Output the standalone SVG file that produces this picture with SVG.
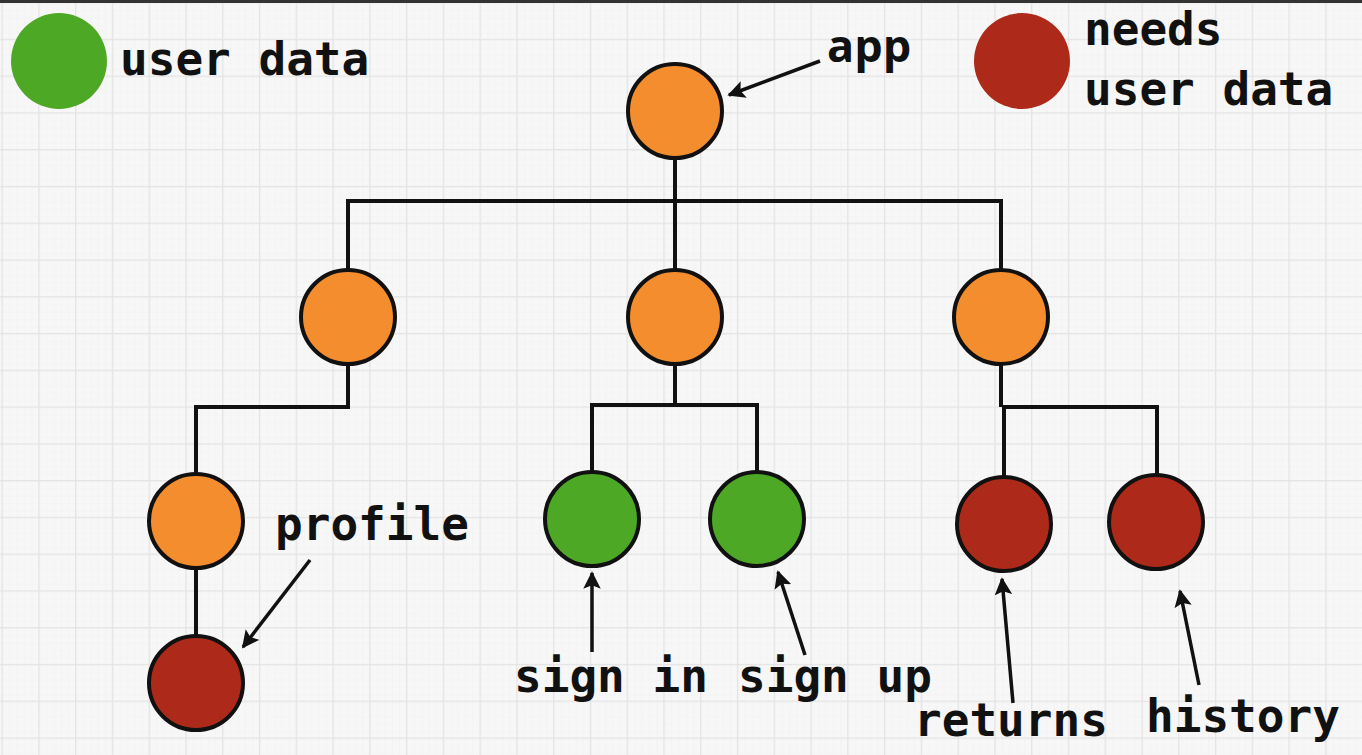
<svg xmlns="http://www.w3.org/2000/svg" width="1362" height="755" viewBox="0 0 1362 755">
<defs>
<pattern id="fine" x="1.5" y="2" width="7.354" height="7.354" patternUnits="userSpaceOnUse">
<path d="M7.354 0V7.354M0 7.354H7.354" fill="none" stroke="#ededed" stroke-width="0.6"/>
</pattern>
<pattern id="grid" x="1.5" y="2" width="36.77" height="36.77" patternUnits="userSpaceOnUse">
<rect width="36.77" height="36.77" fill="url(#fine)"/>
<path d="M0.5 0V36.77M0 0.5H36.77" fill="none" stroke="#e4e4e4" stroke-width="1.6"/>
</pattern>
<marker id="arr" viewBox="0 0 10 10" refX="9" refY="5" markerWidth="5" markerHeight="5" markerUnits="strokeWidth" orient="auto">
<path d="M0 0L10 5L0 10L2 5Z" fill="#111"/>
</marker>
<style>
.node{stroke:#111;stroke-width:4}
.orange{fill:#f48d2d}
.green{fill:#4da826}
.red{fill:#ad2a1a}
.conn{fill:none;stroke:#111;stroke-width:4}
.arrow{fill:none;stroke:#111;stroke-width:3.5;marker-end:url(#arr)}
.lbl{font-family:"DejaVu Sans Mono","Liberation Mono",monospace;font-weight:bold;font-size:46px;fill:#111}
.sans{font-family:"Open Sans","DejaVu Sans",sans-serif;font-weight:bold;font-size:45px;fill:#111}
</style>
</defs>
<rect width="1362" height="755" fill="#f7f7f7"/>
<rect width="1362" height="755" fill="url(#grid)"/>
<rect width="1362" height="3" fill="#333"/>

<g id="legend">
<circle cx="59" cy="61" r="48" class="green"/>
<text x="120" y="75" class="lbl">user data</text>
<circle cx="1022" cy="61" r="48" class="red"/>
<text x="1084" y="45" class="lbl">needs</text>
<text x="1084" y="105" class="lbl">user data</text>
</g>

<g id="connectors">
<path class="conn" d="M675 158V201M348 270V201H1001V270M675 201V270"/>
<path class="conn" d="M348 364V407H196V474"/>
<path class="conn" d="M675 364V405M592 472V405H757V472"/>
<path class="conn" d="M1001 364V407M1004 477V407H1157V475"/>
<path class="conn" d="M196 568V636"/>
<line class="arrow" x1="820" y1="61" x2="729" y2="95"/>
<line class="arrow" x1="310" y1="560" x2="243" y2="647"/>
<line class="arrow" x1="592" y1="652" x2="592" y2="573"/>
<line class="arrow" x1="805" y1="655" x2="778" y2="572"/>
<line class="arrow" x1="1013" y1="703" x2="1002" y2="579"/>
<line class="arrow" x1="1199" y1="685" x2="1180" y2="591"/>
</g>

<g id="node-app"><circle cx="675" cy="111" r="47" class="node orange"/></g>
<g id="node-l2a"><circle cx="348" cy="317" r="47" class="node orange"/></g>
<g id="node-l2b"><circle cx="675" cy="317" r="47" class="node orange"/></g>
<g id="node-l2c"><circle cx="1001" cy="317" r="47" class="node orange"/></g>
<g id="node-l3a"><circle cx="196" cy="521" r="47" class="node orange"/></g>
<g id="node-signin"><circle cx="592" cy="519" r="47" class="node green"/></g>
<g id="node-signup"><circle cx="757" cy="519" r="47" class="node green"/></g>
<g id="node-returns"><circle cx="1004" cy="524" r="47" class="node red"/></g>
<g id="node-history"><circle cx="1156" cy="522" r="47" class="node red"/></g>
<g id="node-profile"><circle cx="196" cy="683" r="47" class="node red"/></g>

<g id="labels">
<text x="827" y="62" class="sans">app</text>
<text x="275" y="540" class="lbl">profile</text>
<text x="514" y="692" class="lbl">sign in</text>
<text x="738" y="692" class="lbl">sign up</text>
<text x="914" y="736" class="lbl">returns</text>
<text x="1146" y="732" class="lbl">history</text>
</g>
</svg>
